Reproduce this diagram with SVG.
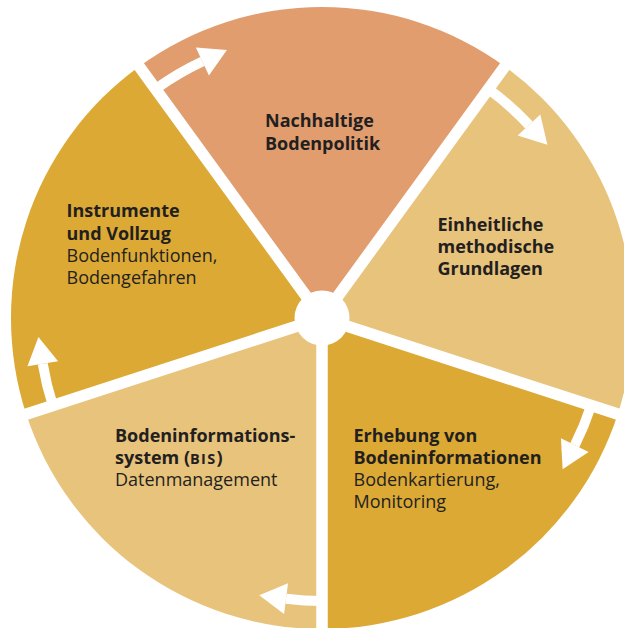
<svg xmlns="http://www.w3.org/2000/svg" width="624" height="628" viewBox="0 0 624 628">
<style>
.salmon{fill:#E29D6E}
.light{fill:#E8C37B}
.dark{fill:#DCA935}
.sep{stroke:#FFFFFF;stroke-width:11.5;fill:none}
.shaft{stroke:#FFFFFF;stroke-width:10;fill:none}
.head{fill:#FFFFFF}
text{font-family:"Open Sans","Noto Sans","Liberation Sans",sans-serif;font-size:18px;fill:#231F20}
.b{font-weight:bold}
.sc{font-size:14.5px;letter-spacing:1.3px}
</style>
<rect width="624" height="628" fill="#FFFFFF"/>
<g id="node-politik">
<path class="salmon" d="M322,318 L139.2,66.4 A311,311 0 0 1 504.8,66.4 Z"/>
<text class="b" x="265" y="127.3">Nachhaltige</text>
<text class="b" x="265" y="150">Bodenpolitik</text>
</g>
<g id="node-grundlagen">
<path class="light" d="M322,318 L504.8,66.4 A311,311 0 0 1 617.8,414.1 Z"/>
<text class="b" x="437.5" y="230.7">Einheitliche</text>
<text class="b" x="437.5" y="253">methodische</text>
<text class="b" x="437.5" y="275.3">Grundlagen</text>
</g>
<g id="node-erhebung">
<path class="dark" d="M322,318 L617.8,414.1 A311,311 0 0 1 322,629 Z"/>
<text class="b" x="353.5" y="442.3">Erhebung von</text>
<text class="b" x="353.5" y="464.3">Bodeninformationen</text>
<text x="353.5" y="486.3">Bodenkartierung,</text>
<text x="353.5" y="508.3">Monitoring</text>
</g>
<g id="node-bis">
<path class="light" d="M322,318 L322,629 A311,311 0 0 1 26.2,414.1 Z"/>
<text class="b" x="115" y="442.3">Bodeninformations-</text>
<text class="b" x="115" y="464.3">system (<tspan class="sc">BIS</tspan>)</text>
<text x="115" y="486.3">Datenmanagement</text>
</g>
<g id="node-instrumente">
<path class="dark" d="M322,318 L26.2,414.1 A311,311 0 0 1 139.2,66.4 Z"/>
<text class="b" x="66.5" y="217.3">Instrumente</text>
<text class="b" x="66.5" y="239.5">und Vollzug</text>
<text x="66.5" y="261.8">Bodenfunktionen,</text>
<text x="66.5" y="284.2">Bodengefahren</text>
</g>
<g id="connectors">
<g id="separators">
<line class="sep" x1="322" y1="318" x2="132.4" y2="57.1"/>
<line class="sep" x1="322" y1="318" x2="511.6" y2="57.1"/>
<line class="sep" x1="322" y1="318" x2="628.8" y2="417.7"/>
<line class="sep" x1="322" y1="318" x2="322" y2="640"/>
<line class="sep" x1="322" y1="318" x2="15.2" y2="417.7"/>
<circle cx="322" cy="318" r="27.5" fill="#FFFFFF"/>
</g>
<g id="arrow1" transform="rotate(-36 322 318)">
<path class="shaft" d="M322,35 A283,283 0 0 1 376,40.2"/>
<polygon class="head" points="378.96,24.99 402.5,45.35 373.04,55.41"/>
</g>
<g id="arrow2" transform="rotate(36 322 318)">
<path class="shaft" d="M322,35 A283,283 0 0 1 376,40.2"/>
<polygon class="head" points="378.96,24.99 402.5,45.35 373.04,55.41"/>
</g>
<g id="arrow3" transform="rotate(108 322 318)">
<path class="shaft" d="M322,35 A283,283 0 0 1 364.8,38.3"/>
<polygon class="head" points="367.15,22.98 391.5,42.4 362.45,53.62"/>
</g>
<g id="arrow4" transform="rotate(180 322 318)">
<path class="shaft" d="M322,35 A283,283 0 0 1 357.97,37.3"/>
<polygon class="head" points="359.94,21.93 384.75,40.73 356,52.67"/>
</g>
<g id="arrow5" transform="rotate(252 322 318)">
<path class="shaft" d="M322,35 A283,283 0 0 1 364.8,38.3"/>
<polygon class="head" points="367.15,22.98 391.5,42.4 362.45,53.62"/>
</g>
</g>
</svg>
